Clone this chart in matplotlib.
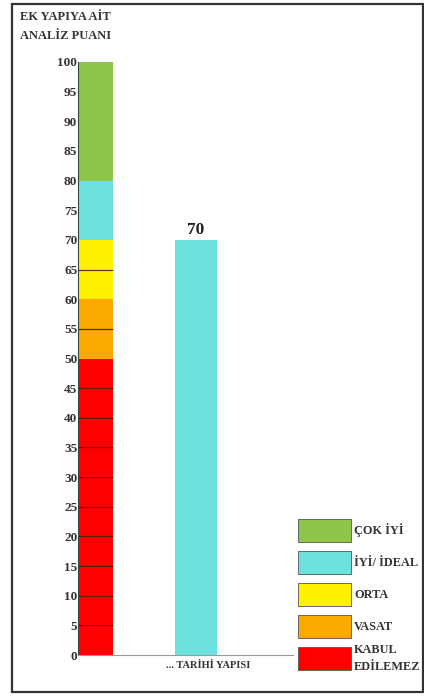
import matplotlib
matplotlib.use("Agg")
import matplotlib.pyplot as plt
from matplotlib.patches import Rectangle
import numpy as np

# ---- data ----
band_labels = ["KABUL\nEDİLEMEZ", "VASAT", "ORTA", "İYİ/ İDEAL", "ÇOK İYİ"]
band_lower = [0, 50, 60, 70, 80]
band_upper = [50, 60, 70, 80, 100]
band_colors = ["#FF0000", "#FBA800", "#FFF200", "#6CE2E0", "#8EC64C"]
band_divided = [True, True, True, False, False]
building_label = "... TARİHİ YAPISI"
building_score = 70
y_ticks = list(range(0, 101, 5))
title_lines = ["EK YAPIYA AİT", "ANALİZ PUANI"]

W, H = 424, 696
fig = plt.figure(figsize=(W / 100, H / 100), dpi=100)
serif = ["Liberation Serif", "DejaVu Serif"]

# outer frame
fig.add_artist(Rectangle((12 / W, 1 - 692 / H), (423 - 12) / W, (692 - 4) / H,
                         transform=fig.transFigure, fill=False,
                         edgecolor="#333333", linewidth=1.6))

ax = fig.add_axes([78 / W, 1 - 655 / H, (293 - 78) / W, (655 - 62) / H])
ax.set_xlim(-0.174, 1.965)
ax.set_ylim(0, 100)

scale_w = 0.348
bar_w = 0.418
# scale bar
for lo, hi, c, div in zip(band_lower, band_upper, band_colors, band_divided):
    ax.bar(0, hi - lo, bottom=lo, width=scale_w, color=c, linewidth=0)
    if div:
        for y in np.arange(lo + 5, hi, 5):
            ax.hlines(y, -scale_w / 2, scale_w / 2, color="#4a1a08", linewidth=0.9, alpha=0.85)
# score bar
score_color = [c for lo, hi, c in zip(band_lower, band_upper, band_colors) if lo <= building_score < hi][0]
ax.bar(1, building_score, width=bar_w, color=score_color, linewidth=0)
ax.text(1, building_score + 0.3, str(building_score), ha="center", va="bottom",
        fontsize=12.5, fontweight="bold", family=serif, color="#222222")

for s in ["top", "right"]:
    ax.spines[s].set_visible(False)
ax.spines["left"].set_color("#3a4a3a")
ax.spines["left"].set_linewidth(0.8)
ax.spines["bottom"].set_color("#999999")
ax.spines["bottom"].set_linewidth(0.8)

ax.set_yticks(y_ticks)
ax.set_yticklabels([str(t) for t in y_ticks], fontsize=9.5, fontweight="bold",
                   family=serif, color="#333333")
ax.tick_params(axis="y", length=0, pad=0.5)
ax.set_xticks([1.12])
ax.set_xticklabels([building_label], fontsize=7.5, fontweight="bold",
                   family=serif, color="#333333")
ax.tick_params(axis="x", length=0, pad=4)

# title
fig.text(20 / W, 1 - 17 / H, title_lines[0], ha="left", va="center",
         fontsize=9, fontweight="bold", family=serif, color="#333333")
fig.text(20 / W, 1 - 36 / H, title_lines[1], ha="left", va="center",
         fontsize=9, fontweight="bold", family=serif, color="#333333")

# legend (top to bottom: best first)
sw_x0, sw_x1 = 298, 351
top0, step, sh = 519, 32, 23
for i, (lab, c) in enumerate(zip(band_labels[::-1], band_colors[::-1])):
    yt = top0 + i * step
    fig.add_artist(Rectangle((sw_x0 / W, 1 - (yt + sh) / H), (sw_x1 - sw_x0) / W, sh / H,
                             transform=fig.transFigure, facecolor=c,
                             edgecolor="#555555", linewidth=0.6))
    fig.text(354 / W, 1 - (yt + sh / 2) / H, lab, ha="left", va="center",
             fontsize=8.8, fontweight="bold", family=serif, color="#333333",
             linespacing=1.45)

fig.savefig("out.png", dpi=100, facecolor="white")
